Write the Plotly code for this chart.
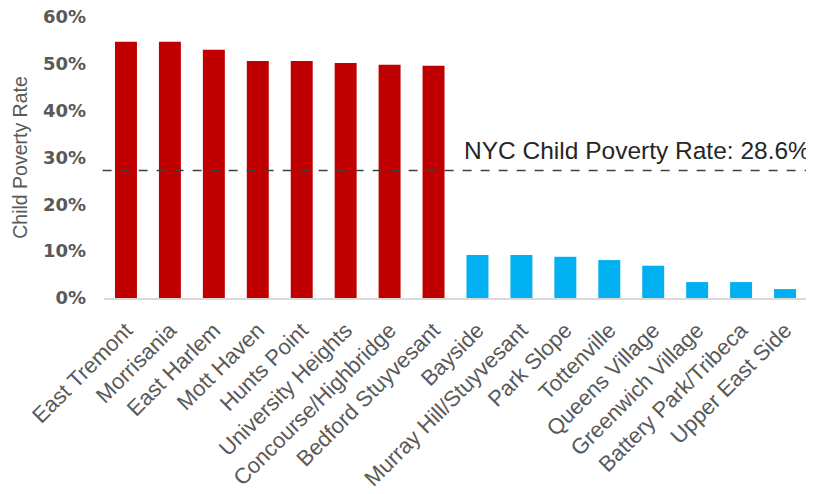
import plotly.graph_objects as go

categories = ["East Tremont", "Morrisania", "East Harlem", "Mott Haven", "Hunts Point",
              "University Heights", "Concourse/Highbridge", "Bedford Stuyvesant",
              "Bayside", "Murray Hill/Stuyvesant", "Park Slope", "Tottenville",
              "Queens Village", "Greenwich Village", "Battery Park/Tribeca", "Upper East Side"]
rates = [54.7, 54.7, 53.0, 50.6, 50.6, 50.2, 49.8, 49.6,
         9.2, 9.2, 8.8, 8.1, 6.9, 3.4, 3.4, 1.9]
group = ["high"] * 8 + ["low"] * 8
nyc_line = 27.2
nyc_label = "NYC Child Poverty Rate: 28.6%"
y_ticks = [0, 10, 20, 30, 40, 50, 60]
y_ticklabels = ["0%", "10%", "20%", "30%", "40%", "50%", "60%"]

colors = ["#C00000" if g == "high" else "#00B0F0" for g in group]

fig = go.Figure()
fig.add_trace(go.Bar(x=categories, y=rates, marker=dict(color=colors, line=dict(width=0)),
                     showlegend=False))
fig.add_shape(type="line", xref="paper", yref="y", x0=-0.002, x1=1.007, y0=nyc_line, y1=nyc_line,
              line=dict(color="#404040", width=1.5, dash="dash"))
fig.add_annotation(x=1.0, xref="paper", y=nyc_line, yref="y", text=nyc_label,
                   showarrow=False, xanchor="right", yanchor="bottom", yshift=5, xshift=5,
                   font=dict(family="Liberation Sans, Arial", size=24.5, color="#262626"))

fig.update_layout(
    width=814, height=494,
    margin=dict(l=96, r=15, t=9, b=204),
    plot_bgcolor="white", paper_bgcolor="white",
    bargap=0.5,
    xaxis=dict(tickangle=-45, showgrid=False, showline=True, linecolor="#D9D9D9", linewidth=1.5,
               ticks="", automargin=False, ticklabelstandoff=9,
               tickfont=dict(family="Liberation Sans, Arial", size=22, color="#595959")),
    yaxis=dict(range=[0, 60], tickvals=y_ticks, ticktext=y_ticklabels, showgrid=False,
               zeroline=False, showline=False, ticks="", automargin=False, ticklabelstandoff=17,
               ticklabeloverflow="allow",
               tickfont=dict(family="DejaVu Sans, Verdana", size=18, color="#595959", weight="bold"),
               title=dict(text="Child Poverty Rate", standoff=10,
                          font=dict(family="Liberation Sans, Arial", size=19.5, color="#595959"))),
)
fig.write_html("out.html")
